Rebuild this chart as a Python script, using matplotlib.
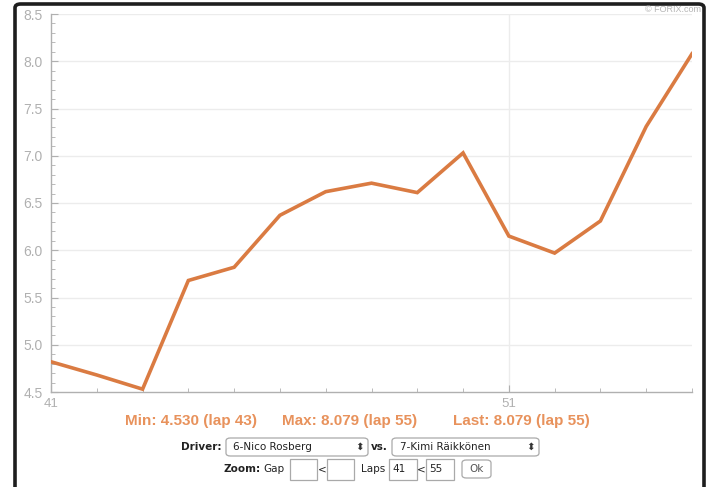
import matplotlib.pyplot as plt
from matplotlib.patches import FancyBboxPatch
from matplotlib.ticker import MultipleLocator

laps = [41, 42, 43, 44, 45, 46, 47, 48, 49, 50, 51, 52, 53, 54, 55]
gap = [4.82, 4.68, 4.53, 5.68, 5.82, 6.37, 6.62, 6.71, 6.61, 7.03, 6.15, 5.97, 6.31, 7.31, 8.079]
y_ticks = [4.5, 5.0, 5.5, 6.0, 6.5, 7.0, 7.5, 8.0, 8.5]
x_labels = [41, 51]

W, H = 720, 487
line_col = "#da7b42"
txt_col = "#e8925c"
grey = "#b0b0b0"
arial = "Liberation Sans"

fig = plt.figure(figsize=(W / 100, H / 100), dpi=100)


def fx(px):
    return px / W


def fy(py):
    return 1 - py / H


# screenshot frame
frame = FancyBboxPatch((fx(15), fy(520)), fx(704) - fx(15), fy(4) - fy(520),
                       boxstyle="round,pad=0,rounding_size=0.008",
                       transform=fig.transFigure, fill=False,
                       edgecolor="#1e1e1e", linewidth=2.6, zorder=0)
fig.patches.append(frame)

ax = fig.add_axes([fx(51), fy(392), fx(692) - fx(51), fy(14) - fy(392)])
ax.plot(laps, gap, color=line_col, linewidth=2.6, solid_joinstyle="miter", zorder=3)
ax.set_xlim(41, 55)
ax.set_ylim(4.5, 8.5)

ax.set_yticks(y_ticks)
ax.set_yticklabels([f"{v:.1f}" for v in y_ticks], family=arial)
ax.yaxis.set_minor_locator(MultipleLocator(0.1))
ax.set_xticks(x_labels)
ax.set_xticklabels([str(v) for v in x_labels], family=arial)
ax.xaxis.set_minor_locator(MultipleLocator(1))

for v in y_ticks[1:]:
    ax.axhline(v, color="#ececec", linewidth=1, zorder=1)
ax.axvline(51, color="#ececec", linewidth=1, zorder=1)

for s in ["top", "right"]:
    ax.spines[s].set_visible(False)
for s in ["left", "bottom"]:
    ax.spines[s].set_color(grey)
    ax.spines[s].set_linewidth(1)

ax.tick_params(axis="y", which="major", direction="in", length=5, color=grey,
               labelcolor=grey, labelsize=10, pad=6)
ax.tick_params(axis="y", which="minor", direction="in", length=3, color=grey)
ax.tick_params(axis="x", which="major", direction="in", length=5, color=grey,
               labelcolor=grey, labelsize=9.5, pad=4)
ax.tick_params(axis="x", which="minor", direction="in", length=3, color=grey)

fig.text(fx(701), fy(10), "© FORIX.com", ha="right", va="center", fontsize=6.5,
         color="#b5b5b5", family=arial)

# summary line
i_min = gap.index(min(gap))
i_max = gap.index(max(gap))
summary = [
    (191, f"Min: {gap[i_min]:.3f} (lap {laps[i_min]})"),
    (350, f"Max: {gap[i_max]:.3f} (lap {laps[i_max]})"),
    (521, f"Last: {gap[-1]:.3f} (lap {laps[-1]})"),
]
for x, t in summary:
    fig.text(fx(x), fy(421), t, ha="center", va="center", fontsize=11,
             fontweight="bold", color=txt_col, family=arial)


def box(x0, x1, y0, y1, rounded=False):
    p = FancyBboxPatch((fx(x0), fy(y1)), fx(x1) - fx(x0), fy(y0) - fy(y1),
                       boxstyle="round,pad=0,rounding_size=0.006" if rounded else "square,pad=0",
                       transform=fig.transFigure, facecolor="white",
                       edgecolor="#a9a9a9", linewidth=0.9)
    fig.patches.append(p)


fs = 7.5
dark = "#222222"
# driver row
fig.text(fx(222), fy(447), "Driver:", ha="right", va="center", fontsize=fs, fontweight="bold", color=dark)
box(226, 368, 438, 456, rounded=True)
fig.text(fx(233), fy(447), "6-Nico Rosberg", ha="left", va="center", fontsize=fs, color=dark)
fig.text(fx(360), fy(447), "⬍", ha="center", va="center", fontsize=fs, color="#333333")
fig.text(fx(371), fy(447), "vs.", ha="left", va="center", fontsize=fs, fontweight="bold", color=dark)
box(392, 539, 438, 456, rounded=True)
fig.text(fx(400), fy(447), "7-Kimi Räikkönen", ha="left", va="center", fontsize=fs, color=dark)
fig.text(fx(531), fy(447), "⬍", ha="center", va="center", fontsize=fs, color="#333333")

# zoom row
fig.text(fx(223), fy(469), "Zoom:", ha="left", va="center", fontsize=fs, fontweight="bold", color=dark)
fig.text(fx(263), fy(469), "Gap", ha="left", va="center", fontsize=fs, color=dark)
box(290, 317, 459, 480)
fig.text(fx(322), fy(469), "<", ha="center", va="center", fontsize=fs, color=dark)
box(327, 354, 459, 480)
fig.text(fx(361), fy(469), "Laps", ha="left", va="center", fontsize=fs, color=dark)
box(389, 417, 459, 480)
fig.text(fx(392), fy(469), str(laps[0]), ha="left", va="center", fontsize=fs, color=dark)
fig.text(fx(421), fy(469), "<", ha="center", va="center", fontsize=fs, color=dark)
box(426, 454, 459, 480)
fig.text(fx(429), fy(469), str(laps[-1]), ha="left", va="center", fontsize=fs, color=dark)
box(462, 491, 460, 478, rounded=True)
fig.text(fx(476.5), fy(469), "Ok", ha="center", va="center", fontsize=fs, color="#555555")

fig.savefig("out.png", dpi=100)
